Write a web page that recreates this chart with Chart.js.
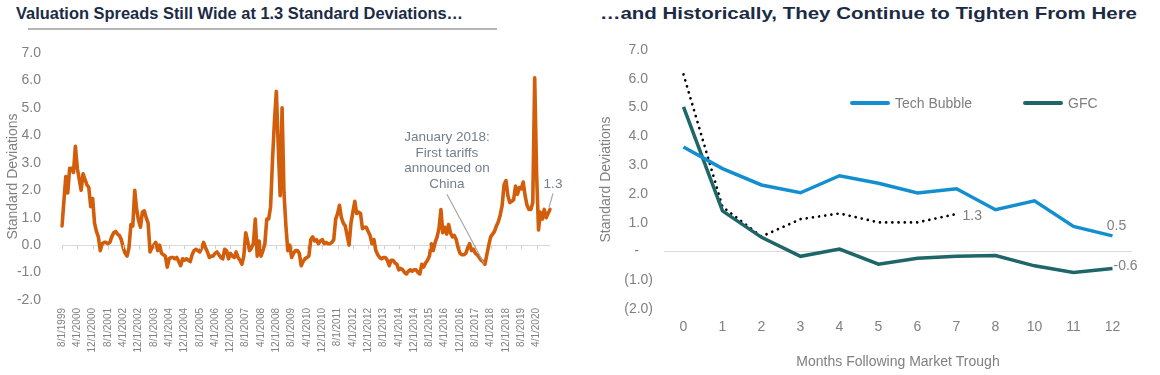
<!DOCTYPE html>
<html><head><meta charset="utf-8">
<script src="https://cdn.jsdelivr.net/npm/chart.js@4.4.1/dist/chart.umd.min.js"></script>
<style>
html,body{margin:0;padding:0;background:#fff;}
body{width:1160px;height:375px;position:relative;overflow:hidden;font-family:"Liberation Sans",Arial,sans-serif;}
.title{position:absolute;top:4px;font-weight:bold;font-size:16.4px;color:#1c2b45;white-space:nowrap;transform-origin:0 50%;}
.rule{position:absolute;top:28px;height:2px;background:#b5b5b5;}
.wrap{position:absolute;top:0;width:580px;height:375px;}
.note{position:absolute;text-align:center;font-size:13.5px;line-height:15.5px;color:#737f8e;white-space:nowrap;transform:translateX(-50%);}
.leg{position:absolute;top:95px;height:16px;font-size:14px;color:#7f7f7f;white-space:nowrap;}
.leg span.ln{display:inline-block;width:40px;height:4px;border-radius:2px;vertical-align:middle;margin-right:5px;position:relative;top:-1px;}
</style>
</head>
<body>
<div class="title" id="t1" data-w="447" style="left:16px;">Valuation Spreads Still Wide at 1.3 Standard Deviations…</div>
<div class="rule" style="left:28px;width:469px;"></div>
<div class="title" id="t2" data-w="537" style="left:600px;">…and Historically, They Continue to Tighten From Here</div>
<div class="wrap" style="left:0;"><canvas id="left" width="580" height="375"></canvas></div>
<div class="wrap" style="left:580px;"><canvas id="right" width="580" height="375"></canvas></div>
<div class="note" style="left:447px;top:129px;">January 2018:<br>First tariffs<br>announced on<br>China</div>
<div class="leg" style="left:850px;"><span class="ln" style="background:#138fcf"></span>Tech Bubble</div>
<div class="leg" style="left:1023px;"><span class="ln" style="background:#1f6668"></span>GFC</div>
<script>
// ---------- data ----------
const startYear = 1999, startMonth = 8;       // first category 8/1/1999, monthly
const labelEvery = 8;                         // a date label every 8 months
const spreadValues = [
  0.7, 1.6, 2.5, 1.9, 2.8, 2.8, 2.65, 3.6, 2.8, 2.4, 2.0, 2.6, 2.4, 2.2, 2.1, 1.4,
  1.7, 0.8, 0.5, 0.3, -0.2, 0.05, 0.1, 0.1, 0.05, 0.1, 0.3, 0.45, 0.5, 0.4, 0.35, 0.2,
  -0.1, -0.3, -0.4, -0.1, 0.75, 0.7, 2.0, 1.3, 0.9, 0.65, 1.2, 1.25, 1.0, 0.8, -0.25, -0.1,
  0.0, 0.1, -0.2, 0.0, -0.3, -0.35, -0.4, -0.8, -0.5, -0.45, -0.45, -0.5, -0.45, -0.6, -0.75, -0.5,
  -0.55, -0.5, -0.55, -0.6, -0.35, -0.2, -0.15, -0.2, -0.25, -0.1, 0.1, -0.1, -0.25, -0.45, -0.4, -0.4,
  -0.3, -0.25, -0.35, -0.45, -0.5, -0.15, -0.2, -0.5, -0.3, -0.4, -0.45, -0.25, -0.45, -0.55, -0.7, -0.4,
  0.45, 0.15, -0.2, -0.1, 0.05, 0.95, -0.4, 0.15, -0.4, -0.2, 0.05, 0.95, 0.95, 1.4, 3.1, 4.5,
  5.6, 3.6, 1.8, 5.0, 1.9, 0.7, -0.2, 0.0, -0.45, -0.3, -0.2, -0.2, -0.3, -0.75, -0.6, -0.5,
  -0.45, -0.4, 0.2, 0.3, 0.15, 0.2, 0.05, 0.15, 0.2, 0.05, 0.1, 0.05, 0.05, 0.1, 0.2, 0.95,
  1.15, 1.45, 1.0, 0.8, 0.7, 0.35, 0.0, 0.8, 1.2, 1.6, 1.15, 1.2, 1.15, 0.6, 0.65, 0.65,
  0.5, 0.35, 0.05, 0.2, -0.2, -0.35, -0.45, -0.5, -0.45, -0.45, -0.55, -0.75, -0.55, -0.55, -0.65, -0.7,
  -0.9, -0.85, -0.9, -1.0, -1.05, -0.95, -0.9, -0.95, -0.9, -0.9, -1.0, -1.05, -0.7, -0.8, -0.65, -0.55,
  -0.4, 0.05, -0.2, 0.1, 0.3, 0.6, 1.3, 0.45, 0.65, 0.4, 0.75, 0.45, 0.3, 0.35, 0.2, -0.1,
  -0.3, -0.35, -0.35, -0.3, -0.1, 0.05, -0.2, -0.15, -0.3, -0.35, -0.45, -0.55, -0.6, -0.7, -0.35, 0.0,
  0.3, 0.4, 0.5, 0.7, 0.85, 1.1, 1.45, 2.2, 2.35, 1.8, 1.55, 1.6, 1.65, 2.15, 1.85, 2.1,
  2.05, 2.3, 1.8, 1.45, 1.3, 1.3, 1.55, 6.1, 2.6, 0.55, 1.2, 0.95, 1.3, 1.0, 1.15, 1.3
];
const tariffIndex = 221;                      // January 2018 point
const rightCategories = ['0','1','2','3','4','5','6','7','8','10','11','12'];
const techBubble = [3.63, 2.88, 2.31, 2.04, 2.63, 2.37, 2.03, 2.18, 1.45, 1.76, 0.87, 0.54];
const gfc        = [5.02, 1.41, 0.49, -0.17, 0.08, -0.44, -0.24, -0.17, -0.14, -0.50, -0.73, -0.59];
const current    = [6.15, 1.55, 0.52, 1.12, 1.32, 1.01, 1.01, 1.30, null, null, null, null];
const yMin = -2, yMax = 7;

// ---------- titles: fit to reference widths ----------
document.querySelectorAll('.title').forEach(el => {
  const w = el.getBoundingClientRect().width;
  const target = Number(el.dataset.w);
  if (w > 0) el.style.transform = 'scaleX(' + (target / w) + ')';
});

// ---------- build ----------
const leftCategories = spreadValues.map((_, i) => {
  const m0 = startMonth - 1 + i;
  return (m0 % 12 + 1) + '/1/' + (startYear + Math.floor(m0 / 12));
});
const FONT = '"Liberation Sans", Arial, sans-serif';
const GRAY = '#808080';
const ORANGE = '#d25e0b', BLUE = '#138fcf', TEAL = '#1f6668';

const leftDecor = {
  id: 'leftDecor',
  afterDatasetsDraw(chart) {
    const {ctx, scales: {x, y}} = chart;
    const y0 = y.getPixelForValue(0);
    ctx.save();
    ctx.strokeStyle = '#d0d0d0'; ctx.lineWidth = 1;
    for (let i = 0; i < leftCategories.length; i += labelEvery) {
      const px = Math.round(x.getPixelForValue(i)) + 0.5;
      ctx.beginPath(); ctx.moveTo(px, y0); ctx.lineTo(px, y0 + 4); ctx.stroke();
    }
    // leader for tariff annotation
    const tx = x.getPixelForValue(tariffIndex), ty = y.getPixelForValue(spreadValues[tariffIndex]);
    ctx.strokeStyle = '#a8a8a8'; ctx.lineWidth = 1.2;
    ctx.beginPath(); ctx.moveTo(tx - 38, ty - 70); ctx.lineTo(tx - 1, ty - 1); ctx.stroke();
    // last value label
    const last = spreadValues.length - 1;
    const lx = x.getPixelForValue(last), ly = y.getPixelForValue(spreadValues[last]);
    ctx.beginPath(); ctx.moveTo(lx - 1, ly - 2); ctx.lineTo(lx + 3, ly - 16); ctx.stroke();
    ctx.fillStyle = '#737f8e'; ctx.font = '13.5px ' + FONT;
    ctx.textAlign = 'center'; ctx.textBaseline = 'middle';
    ctx.fillText(spreadValues[last].toFixed(1), lx + 3, ly - 25);
    ctx.restore();
  }
};

new Chart(document.getElementById('left'), {
  type: 'line',
  data: { labels: leftCategories, datasets: [{
    data: spreadValues, borderColor: ORANGE, borderWidth: 3.6, pointRadius: 0,
    tension: 0, borderJoinStyle: 'round', borderCapStyle: 'round'
  }]},
  options: {
    responsive: false, animation: false,
    layout: { padding: { top: 53, right: 30, left: 0, bottom: 0 } },
    plugins: { legend: { display: false }, tooltip: { enabled: false } },
    scales: {
      x: {
        type: 'category', offset: false,
        grid: { display: false, drawTicks: false }, border: { display: false },
        ticks: { autoSkip: false, minRotation: 90, maxRotation: 90, padding: 8, color: GRAY,
          font: { size: 10, family: FONT },
          callback: (v, i) => (i % labelEvery === 0 ? leftCategories[i] : '') },
        afterFit: s => { s.height = 75; }
      },
      y: {
        min: yMin, max: yMax,
        ticks: { stepSize: 1, padding: 21, color: GRAY, font: { size: 14, family: FONT },
          callback: v => Number(v).toFixed(1) },
        grid: { drawTicks: false, color: c => (c.tick && c.tick.value === 0 ? '#d9d9d9' : 'rgba(0,0,0,0)') },
        border: { display: false },
        title: { display: true, text: 'Standard Deviations', color: GRAY,
          font: { size: 14, family: FONT }, padding: { top: 5, bottom: 0 } },
        afterFit: s => { s.width = 62; }
      }
    }
  },
  plugins: [leftDecor]
});

const rightLabels = {
  id: 'rightLabels',
  afterDatasetsDraw(chart) {
    const {ctx, scales: {x, y}} = chart;
    ctx.save();
    ctx.fillStyle = GRAY; ctx.font = '14px ' + FONT; ctx.textBaseline = 'middle';
    const ci = 7;
    ctx.textAlign = 'left';
    ctx.fillText(current[ci].toFixed(1), x.getPixelForValue(ci) + 6, y.getPixelForValue(current[ci]) + 2);
    const li = techBubble.length - 1;
    ctx.textAlign = 'center';
    ctx.fillText(techBubble[li].toFixed(1), x.getPixelForValue(li) + 4, y.getPixelForValue(techBubble[li]) - 10);
    ctx.textAlign = 'left';
    ctx.fillText(gfc[li].toFixed(1), x.getPixelForValue(li) + 1, y.getPixelForValue(gfc[li]) - 2);
    ctx.restore();
  }
};

new Chart(document.getElementById('right'), {
  type: 'line',
  data: { labels: rightCategories, datasets: [
    { label: 'Tech Bubble', data: techBubble, borderColor: BLUE, borderWidth: 3.5, pointRadius: 0, tension: 0 },
    { label: 'GFC', data: gfc, borderColor: TEAL, borderWidth: 3.5, pointRadius: 0, tension: 0 },
    { label: 'Current', data: current, borderColor: '#000', borderWidth: 2.7, borderDash: [0.01, 6.2],
      borderCapStyle: 'round', pointRadius: 0, tension: 0, spanGaps: false }
  ]},
  options: {
    responsive: false, animation: false,
    layout: { padding: { top: 50, right: 28, left: 0, bottom: 0 } },
    plugins: { legend: { display: false }, tooltip: { enabled: false } },
    scales: {
      x: {
        offset: true,
        grid: { display: false, drawTicks: false }, border: { display: false },
        ticks: { padding: 10, color: GRAY, font: { size: 14, family: FONT }, maxRotation: 0 },
        title: { display: true, text: 'Months Following Market Trough', color: GRAY,
          font: { size: 14, family: FONT }, padding: { top: 0, bottom: 4 } },
        afterFit: s => { s.height = 66; }
      },
      y: {
        min: yMin, max: yMax,
        ticks: { stepSize: 1, padding: 11, color: GRAY, font: { size: 14, family: FONT },
          callback: v => (v === 0 ? '-\u2003' : v < 0 ? '(' + Math.abs(v).toFixed(1) + ')' : Number(v).toFixed(1) + '\u2008\u200A') },
        grid: { drawTicks: false, color: c => (c.tick && c.tick.value === 0 ? '#d9d9d9' : 'rgba(0,0,0,0)') },
        border: { display: false },
        title: { display: true, text: 'Standard Deviations', color: GRAY,
          font: { size: 14, family: FONT }, padding: { top: 18, bottom: 0 } },
        afterFit: s => { s.width = 84; }
      }
    }
  },
  plugins: [rightLabels]
});
</script>
</body></html>
